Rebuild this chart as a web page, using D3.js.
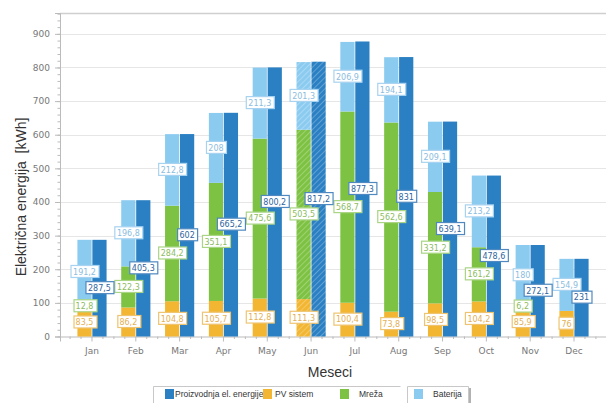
<!DOCTYPE html>
<html>
<head>
<meta charset="utf-8">
<script src="https://cdn.jsdelivr.net/npm/d3@7"></script>
<style>
  body { margin: 0; background: #fff; }
  svg { display: block; font-family: "Liberation Sans", Arial, sans-serif; }
</style>
</head>
<body>
<div id="chart"></div>
<script>
/* DATA */
const months = ["Jan", "Feb", "Mar", "Apr", "May", "Jun", "Jul", "Aug", "Sep", "Oct", "Nov", "Dec"];
const pvSistem = [83.5, 86.2, 104.8, 105.7, 112.8, 111.3, 100.4, 73.8, 98.5, 104.2, 85.9, 76];
const mreza = [12.8, 122.3, 284.2, 351.1, 475.6, 503.5, 568.7, 562.6, 331.2, 161.2, 6.2, 0];
const baterija = [191.2, 196.8, 212.8, 208, 211.3, 201.3, 206.9, 194.1, 209.1, 213.2, 180, 154.9];
const proizvodnja = [287.5, 405.3, 602, 665.2, 800.2, 817.2, 877.3, 831, 639.1, 478.6, 272.1, 231];
const yTicks = [0, 100, 200, 300, 400, 500, 600, 700, 800, 900];
const legendNames = ["Proizvodnja el. energije", "PV sistem", "Mreža", "Baterija"];
const hatchedMonth = "Jun";

/* CONSTANTS */
const width = 606,
  height = 403,
  margin = { top: 13, bottom: 66, left: 60, right: 0 };

const colors = {
  prod: "#2a80c3",
  pv: "#f2b632",
  mreza: "#7dc243",
  bat: "#8ccbf0"
};
const labelStyle = {
  prod: { text: "#2f65a0", stroke: "#4f89c0" },
  pv: { text: "#e3b055", stroke: "#efc470" },
  mreza: { text: "#8cbc62", stroke: "#a9d585" },
  bat: { text: "#8cbde0", stroke: "#a8d3f0" }
};

const fmt = v => String(v).replace(".", ",");

const rows = months.map((m, i) => ({
  month: m,
  pv: pvSistem[i],
  mreza: mreza[i],
  bat: baterija[i],
  prod: proizvodnja[i]
}));

/* SVG */
const svg = d3.select("#chart")
  .append("svg")
  .attr("width", width)
  .attr("height", height);

// hatch patterns for the highlighted month
const defs = svg.append("defs");
Object.entries(colors).forEach(([key, c]) => {
  const p = defs.append("pattern")
    .attr("id", "hatch-" + key)
    .attr("patternUnits", "userSpaceOnUse")
    .attr("width", 4)
    .attr("height", 4)
    .attr("patternTransform", "rotate(45)");
  p.append("rect").attr("width", 4).attr("height", 4).attr("fill", c);
  p.append("line")
    .attr("x1", 0).attr("y1", 0).attr("x2", 0).attr("y2", 4)
    .attr("stroke", "#fff").attr("stroke-opacity", 0.35).attr("stroke-width", 1.5);
});

/* SCALES */
const xScale = d3.scaleBand()
  .domain(months)
  .range([margin.left, width - margin.right])
  .paddingInner(0)
  .paddingOuter(0.23);

const x1 = d3.scaleBand()
  .domain(["stack", "prod"])
  .range([0, xScale.bandwidth()])
  .paddingInner(0.05)
  .paddingOuter(0.49);

const yScale = d3.scaleLinear()
  .domain([0, 962])
  .range([height - margin.bottom - 0.5, margin.top]);

/* GRID */
svg.append("g")
  .selectAll("line")
  .data(yTicks.slice(1))
  .join("line")
  .attr("x1", margin.left)
  .attr("x2", width)
  .attr("y1", d => Math.round(yScale(d)) + 0.5)
  .attr("y2", d => Math.round(yScale(d)) + 0.5)
  .attr("stroke", "#e6e6e6");

// top frame line
svg.append("line")
  .attr("x1", margin.left).attr("x2", width)
  .attr("y1", margin.top + 0.5).attr("y2", margin.top + 0.5)
  .attr("stroke", "#cfcfcf").attr("stroke-width", 1.5);

/* AXES */
const yAxisGroup = svg.append("g")
  .attr("transform", `translate(${margin.left},0)`)
  .call(d3.axisLeft(yScale).tickValues(yTicks).tickSize(5).tickPadding(5));

svg.append("g")
  .attr("transform", `translate(${margin.left},0)`)
  .call(d3.axisLeft(yScale).tickValues(d3.range(0, 961, 20)).tickSize(2.5).tickFormat(""))
  .call(g => g.select(".domain").remove());

const xAxisGroup = svg.append("g")
  .attr("transform", `translate(0,${yScale(0)})`)
  .call(d3.axisBottom(xScale).tickSize(5).tickPadding(6));

// minor ticks on the x axis (quarters of a band)
const minor = [];
months.forEach(m => [0, 1, 3].forEach(k => minor.push(xScale(m) + k * xScale.step() / 4)));
minor.push(xScale(months[11]) + xScale.step());
xAxisGroup.selectAll(".minor")
  .data(minor)
  .join("line")
  .attr("class", "minor")
  .attr("x1", d => d).attr("x2", d => d)
  .attr("y1", 0).attr("y2", 2.5);

[yAxisGroup, xAxisGroup].forEach(g => {
  g.selectAll("text").attr("fill", "#777")
    .attr("font-family", "'DejaVu Sans', Verdana, sans-serif").style("font-size", "9px");
});
svg.selectAll(".domain").attr("stroke", "#bbb");
svg.selectAll(".tick line, .minor").attr("stroke", "#bbb");

// axis titles
svg.append("text")
  .attr("transform", "translate(26,197) rotate(-90)")
  .attr("text-anchor", "middle")
  .attr("font-size", 14)
  .attr("fill", "#333")
  .style("white-space", "pre")
  .text("Električna energija  [kWh]");

svg.append("text")
  .attr("x", 330)
  .attr("y", 377)
  .attr("text-anchor", "middle")
  .attr("font-size", 14)
  .attr("fill", "#333")
  .text("Meseci");

/* BARS */
const stackKeys = ["pv", "mreza", "bat"];
const series = d3.stack().keys(stackKeys)(rows);
const fillFor = (key, d) => d.month === hatchedMonth ? `url(#hatch-${key})` : colors[key];

const barLayer = svg.append("g");
series.forEach(s => {
  barLayer.selectAll(".seg-" + s.key)
    .data(s)
    .join("rect")
    .attr("x", d => xScale(d.data.month) + x1("stack"))
    .attr("width", x1.bandwidth())
    .attr("y", d => yScale(d[1]))
    .attr("height", d => yScale(d[0]) - yScale(d[1]))
    .attr("fill", d => fillFor(s.key, d.data));
});

barLayer.selectAll(".prod")
  .data(rows)
  .join("rect")
  .attr("x", d => xScale(d.month) + x1("prod"))
  .attr("width", x1.bandwidth())
  .attr("y", d => yScale(d.prod))
  .attr("height", d => yScale(0) - yScale(d.prod))
  .attr("fill", d => fillFor("prod", d));

/* LABELS */
const labels = [];
series.forEach(s => s.forEach(d => {
  if (d.data[s.key] > 0) labels.push({
    key: s.key,
    value: d.data[s.key],
    cx: xScale(d.data.month) + x1("stack") + x1.bandwidth() / 2,
    cy: yScale((d[0] + d[1]) / 2)
  });
}));
rows.forEach(d => labels.push({
  key: "prod",
  value: d.prod,
  cx: xScale(d.month) + x1("prod") + x1.bandwidth() / 2,
  cy: yScale(d.prod / 2)
}));

const labelGroups = svg.append("g")
  .selectAll("g")
  .data(labels)
  .join("g")
  .attr("transform", d => `translate(${d.cx},${d.cy})`);

labelGroups.append("text")
  .attr("text-anchor", "middle")
  .attr("dy", "0.35em")
  .attr("font-family", "'DejaVu Sans', Verdana, sans-serif")
  .attr("font-size", 8)
  .attr("fill", d => labelStyle[d.key].text)
  .text(d => fmt(d.value));

labelGroups.each(function(d) {
  const g = d3.select(this);
  const bb = g.select("text").node().getBBox();
  g.insert("rect", "text")
    .attr("x", Math.round(bb.x - 2.5) + 0.5)
    .attr("y", -6.5)
    .attr("width", Math.round(bb.width + 5))
    .attr("height", 12)
    .attr("fill", "#fff")
    .attr("stroke", labelStyle[d.key].stroke)
    .attr("stroke-width", 1.2);
});

/* LEGEND */
const legend = svg.append("g");
legend.append("path")
  .attr("d", "M153.5,403 V386.5 H400.5 M407.5,403 V386.5 H468.5 V403")
  .attr("fill", "none")
  .attr("stroke", "#c8c8c8");
legend.append("line")
  .attr("x1", 470).attr("x2", 470).attr("y1", 388).attr("y2", 403)
  .attr("stroke", "#999").attr("stroke-width", 1.5);

const legendKeys = ["prod", "pv", "mreza", "bat"];
const legendX = [165, 263, 340, 414];
const legendItems = legend.selectAll(".item")
  .data(legendKeys)
  .join("g")
  .attr("class", "item")
  .attr("transform", (d, i) => `translate(${legendX[i]},389)`);

legendItems.append("rect")
  .attr("width", 9)
  .attr("height", 10)
  .attr("fill", d => colors[d]);

legendItems.append("text")
  .attr("x", (d, i) => i === 1 ? 12 : (i === 0 ? 10 : 19))
  .attr("y", 8)
  .attr("font-size", 8.5)
  .attr("fill", "#333")
  .text((d, i) => legendNames[i]);
</script>
</body>
</html>
